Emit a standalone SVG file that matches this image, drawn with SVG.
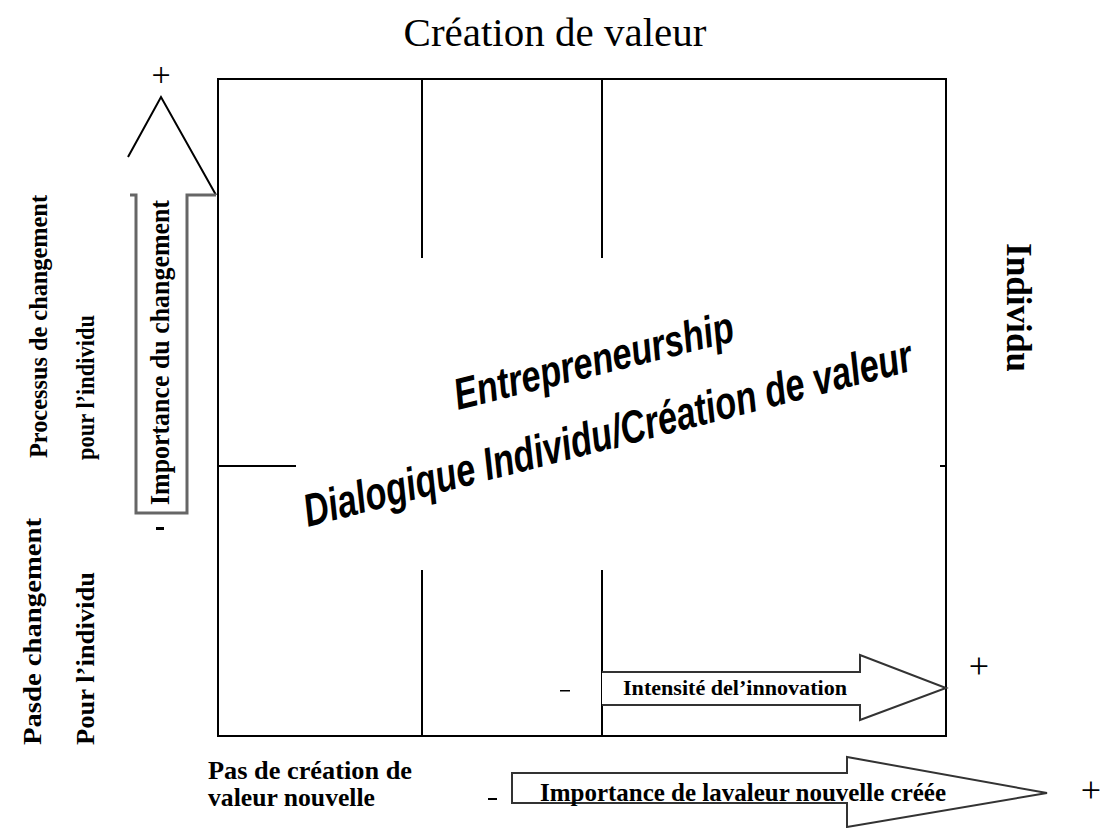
<svg xmlns="http://www.w3.org/2000/svg" width="1102" height="828" viewBox="0 0 1102 828">
<style>
.ln{fill:none;stroke:#000;stroke-width:2}
.ar{fill:#fff;stroke:#333;stroke-width:2}
.ser{font-family:"Liberation Serif","Times New Roman",serif;fill:#000}
.b{font-weight:bold}
.ctr{font-family:"Liberation Sans",Arial,sans-serif;font-weight:bold;font-style:italic;fill:#000}
</style>
<rect width="1102" height="828" fill="#fff"/>
<text class="ser" x="555" y="46" font-size="41" text-anchor="middle">Création de valeur</text>
<g id="matrix">
<rect class="ln" x="218" y="79" width="728" height="657"/>
<line class="ln" x1="422" y1="79" x2="422" y2="258"/>
<line class="ln" x1="602" y1="79" x2="602" y2="258"/>
<line class="ln" x1="422" y1="570" x2="422" y2="736"/>
<line class="ln" x1="602" y1="570" x2="602" y2="736"/>
<line class="ln" x1="218" y1="466" x2="296" y2="466"/>
<line class="ln" x1="940" y1="466" x2="946" y2="466"/>
</g>
<g id="center-text">
<text class="ctr" font-size="44" transform="translate(458 410) rotate(-14)" textLength="287" lengthAdjust="spacingAndGlyphs">Entrepreneurship</text>
<text class="ctr" font-size="46" transform="translate(308 527) rotate(-14.5)" textLength="627" lengthAdjust="spacingAndGlyphs">Dialogique Individu/Création de valeur</text>
</g>
<g id="arrow-changement">
<polyline class="ln" stroke="#444" points="128,157 161,97 216,195"/>
<path d="M130,195 H136 V513 H187 V195 H216" fill="none" stroke="#666" stroke-width="3"/>
<text class="ser b" font-size="27" transform="translate(169 505) rotate(-90)" textLength="305" lengthAdjust="spacingAndGlyphs">Importance du changement</text>
<text class="ser" x="161" y="86" font-size="34" text-anchor="middle">+</text>
<rect x="156" y="527" width="8" height="3" fill="#000"/>
</g>
<g id="arrow-innovation">
<path class="ar" d="M602,672 H860 V655 L946,688 L860,720 V705 H602"/>
<text class="ser b" x="623" y="695" font-size="20" textLength="224" lengthAdjust="spacingAndGlyphs">Intensité del’innovation</text>
<rect x="560" y="690" width="10" height="1.5" fill="#000"/>
<text class="ser" x="979" y="678" font-size="36" text-anchor="middle">+</text>
</g>
<g id="arrow-valeur">
<path class="ar" d="M512,773 H847 V757 L1047,793 L847,827 V803 H512 Z"/>
<text class="ser b" x="540" y="801" font-size="25" textLength="406" lengthAdjust="spacingAndGlyphs">Importance de lavaleur nouvelle créée</text>
<rect x="488" y="798" width="9" height="2" fill="#000"/>
<text class="ser" x="1091" y="802" font-size="36" text-anchor="middle">+</text>
</g>
<g id="left-labels">
<text class="ser b" font-size="26" transform="translate(47 458) rotate(-90)" textLength="263" lengthAdjust="spacingAndGlyphs">Processus de changement</text>
<text class="ser b" font-size="26" transform="translate(94 460) rotate(-90)" textLength="145" lengthAdjust="spacingAndGlyphs">pour l’individu</text>
<text class="ser b" font-size="26" transform="translate(41 745) rotate(-90)" textLength="227" lengthAdjust="spacingAndGlyphs">Pasde  changement</text>
<text class="ser b" font-size="26" transform="translate(94 745) rotate(-90)" textLength="173" lengthAdjust="spacingAndGlyphs">Pour  l’individu</text>
</g>
<g id="right-label">
<text class="ser b" font-size="36" transform="translate(1007 243) rotate(90)" textLength="129" lengthAdjust="spacingAndGlyphs">Individu</text>
</g>
<g id="bottom-labels">
<text class="ser b" x="208" y="779" font-size="25" textLength="204" lengthAdjust="spacingAndGlyphs">Pas de création de</text>
<text class="ser b" x="208" y="806" font-size="25" textLength="167" lengthAdjust="spacingAndGlyphs">valeur nouvelle</text>
</g>
</svg>
